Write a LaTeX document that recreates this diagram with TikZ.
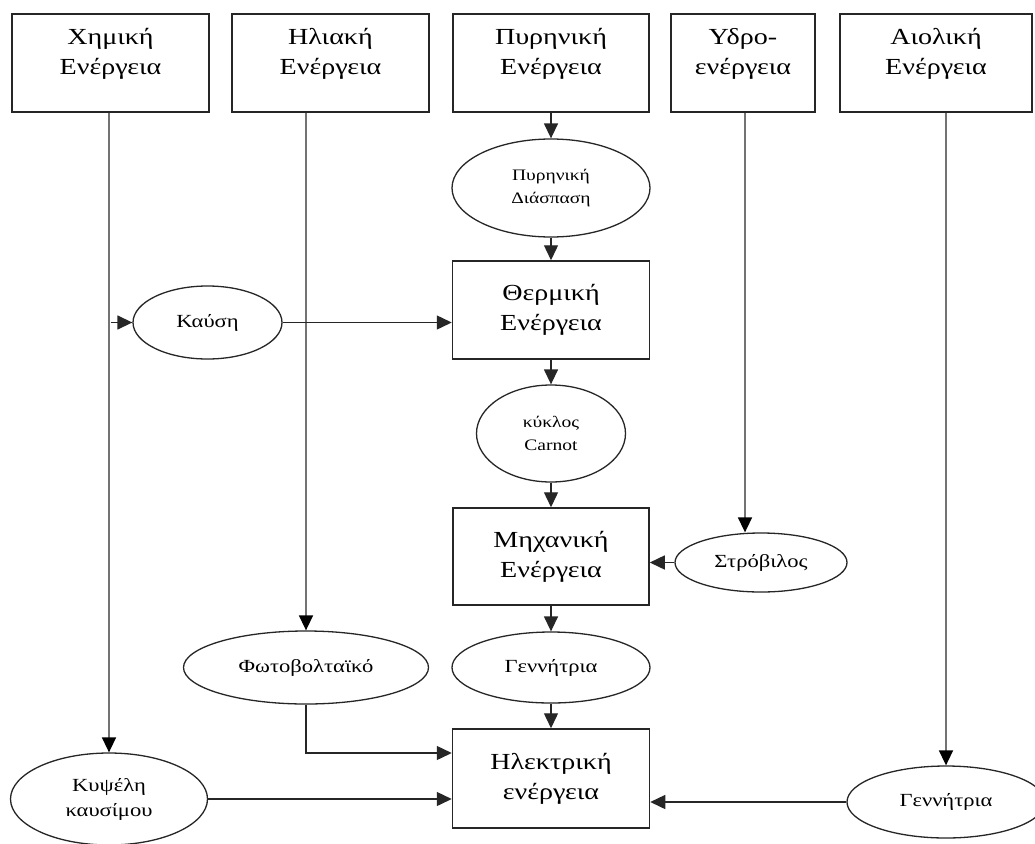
\documentclass[tikz,border=0pt]{standalone}
\usepackage{fontspec}
\setmainfont{Liberation Serif}[FakeStretch=1.22]
\usetikzlibrary{arrows.meta,shapes.geometric}
\begin{document}
\begin{tikzpicture}[x=1pt,y=-1pt,
  box/.style={draw=black!85, line width=1.5pt, inner sep=0pt, align=center,
    font=\fontsize{23}{30}\selectfont},
  lbl/.style={align=center, font=\fontsize{23}{30}\selectfont, inner sep=0pt},
  oval/.style={ellipse, draw=black!85, line width=1.3pt, inner sep=0pt, align=center,
    font=\fontsize{18.5}{25}\selectfont},
  small/.style={font=\fontsize{16}{23}\selectfont},
  arr/.style={draw=black!85, line width=1.4pt, -{Triangle[length=15pt,width=14pt]}},
  feed/.style={draw=black!55, line width=1.6pt, -{Triangle[length=15pt,width=14pt,color=black]}},
]
\useasboundingbox[fill=white] (0,0) rectangle (1035,843);

% top boxes
\node[box, minimum width=197pt, minimum height=98pt,
  label={[lbl,yshift=9pt]center:Χημική\\Ενέργεια}] (chem) at (110.5,63) {};
\node[box, minimum width=197pt, minimum height=98pt,
  label={[lbl,yshift=9pt]center:Ηλιακή\\Ενέργεια}] (solar) at (330.5,63) {};
\node[box, minimum width=196pt, minimum height=98pt,
  label={[lbl,yshift=9pt]center:Πυρηνική\\Ενέργεια}] (nuc) at (551,63) {};
\node[box, minimum width=144pt, minimum height=98pt,
  label={[lbl,yshift=9pt]center:Υδρο-\\ενέργεια}] (hydro) at (743,63) {};
\node[box, minimum width=192pt, minimum height=98pt,
  label={[lbl,yshift=9pt]center:Αιολική\\Ενέργεια}] (wind) at (936,63) {};

% central column
\node[oval, small, minimum width=198pt, minimum height=98pt] (fis) at (551,188) {Πυρηνική\\Διάσπαση};
\node[box, minimum width=197pt, minimum height=98pt] (therm) at (551,310) {Θερμική\\Ενέργεια};
\node[oval, small, minimum width=149pt, minimum height=97pt] (carnot) at (551,433.5) {κύκλος\\Carnot};
\node[box, minimum width=196pt, minimum height=97pt] (mech) at (551,556.5) {Μηχανική\\Ενέργεια};
\node[oval, minimum width=198pt, minimum height=71pt] (gen1) at (551,667.5) {Γεννήτρια};
\node[box, minimum width=197pt, minimum height=99pt] (elec) at (551,778.5) {Ηλεκτρική\\ενέργεια};

% side ellipses
\node[oval, minimum width=149pt, minimum height=73pt] (kausi) at (207.5,322.5) {Καύση};
\node[oval, minimum width=172pt, minimum height=59pt] (strov) at (761,562.5) {Στρόβιλος};
\node[oval, minimum width=245pt, minimum height=73pt] (pv) at (306,667.5) {Φωτοβολταϊκό};
\node[oval, minimum width=197pt, minimum height=92pt] (kyps) at (109,799) {Κυψέλη\\καυσίμου};
\node[oval, minimum width=198pt, minimum height=72pt] (gen2) at (946,802) {Γεννήτρια};

\coordinate (hx) at (745,0);

% feed lines from top boxes
\draw[feed] (chem.south -| kyps.north) -- (kyps.north);
\draw[arr] (chem.south |- kausi.west) -- (kausi.west);
\draw[feed] (solar.south -| pv.north) -- (pv.north);
\draw[feed] (hydro.south -| hx) -- (strov.north -| hx);
\draw[feed] (wind.south -| gen2.north) -- (gen2.north);

% central chain
\draw[arr] (nuc.south) -- (fis.north);
\draw[arr] (fis.south) -- (therm.north);
\draw[arr] (therm.south) -- (carnot.north);
\draw[arr] (carnot.south) -- (mech.north);
\draw[arr] (mech.south) -- (gen1.north);
\draw[arr] (gen1.south) -- (elec.north);

% side connections
\draw[arr] (kausi.east) -- (kausi.east -| therm.west);
\draw[arr] (strov.west) -- (strov.west -| mech.east);
\draw[arr] (pv.south) |- ([yshift=25.5pt]elec.west);
\draw[arr] (kyps.east) -- (kyps.east -| elec.west);
\draw[arr] (gen2.west) -- (gen2.west -| elec.east);
\end{tikzpicture}
\end{document}
